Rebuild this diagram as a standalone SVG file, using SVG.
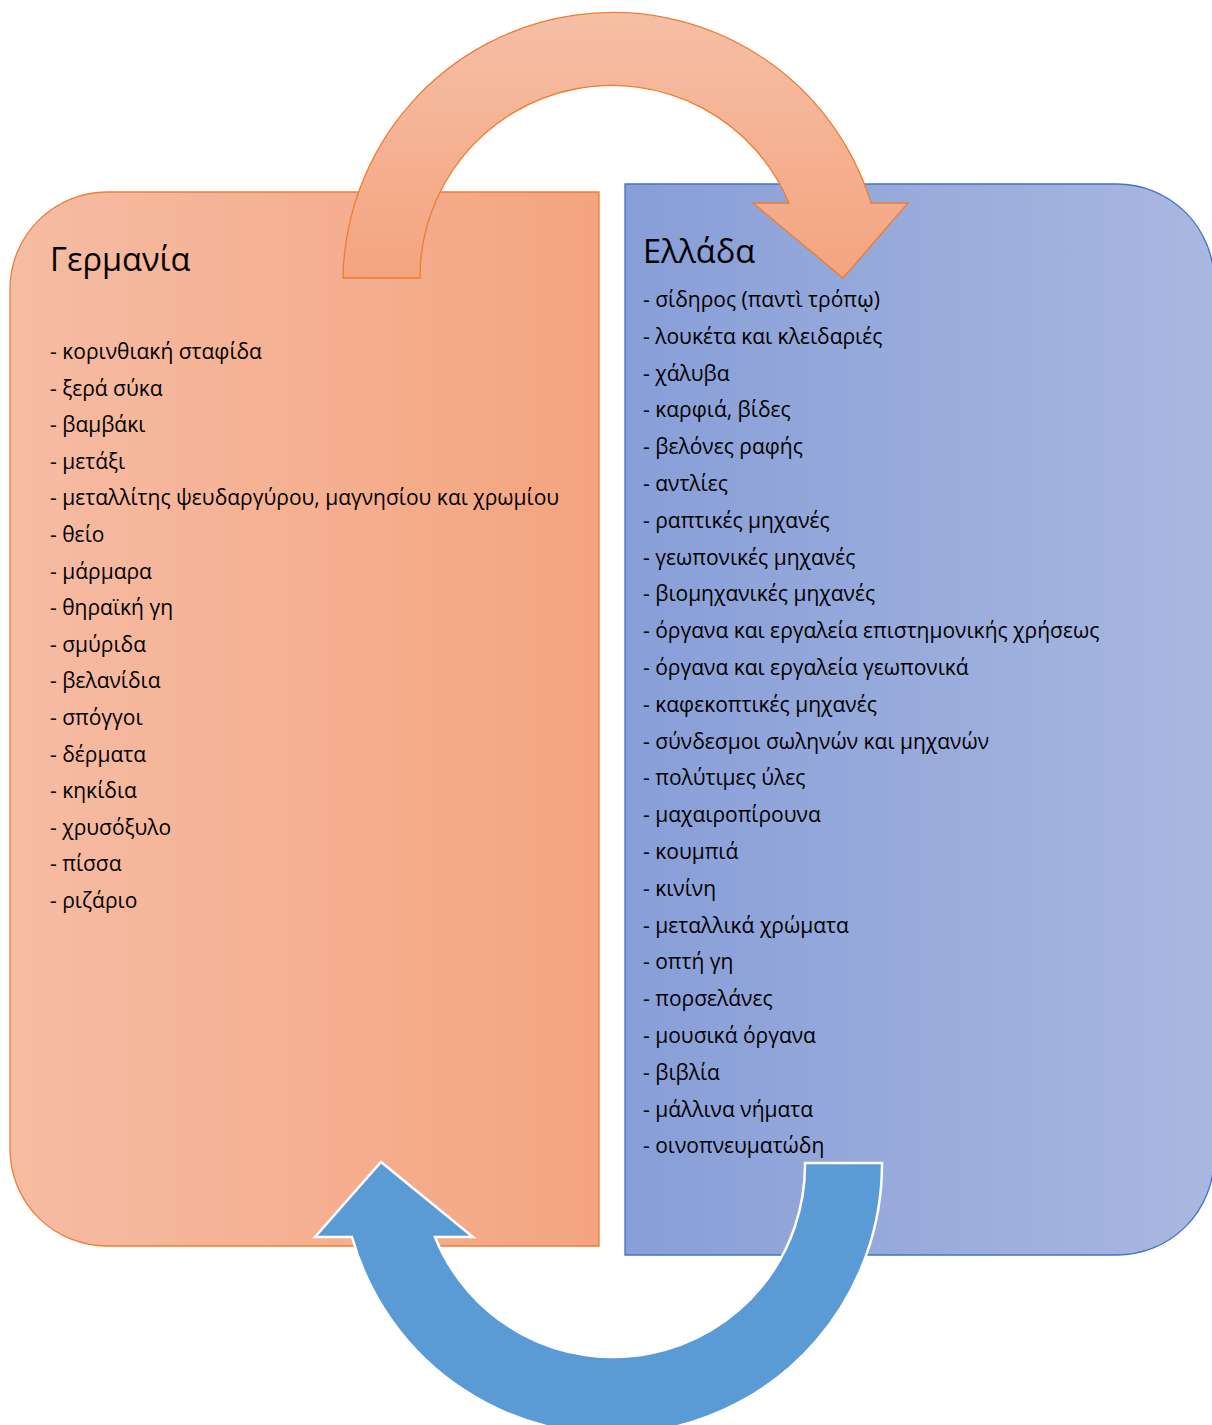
<svg xmlns="http://www.w3.org/2000/svg" width="1212" height="1425" viewBox="0 0 1212 1425">
<defs>
<linearGradient id="gOrange" x1="0" y1="0" x2="1" y2="0">
<stop offset="0" stop-color="#F6BCA4"/>
<stop offset="1" stop-color="#F4A47F"/>
</linearGradient>
<linearGradient id="gBlue" x1="0" y1="0" x2="1" y2="0">
<stop offset="0" stop-color="#889ED7"/>
<stop offset="1" stop-color="#A9B8E0"/>
</linearGradient>
<linearGradient id="gArrowTop" x1="0" y1="0" x2="0" y2="1">
<stop offset="0" stop-color="#F6BFA6"/>
<stop offset="1" stop-color="#F4A47F"/>
</linearGradient>
</defs>
<style>
.title{font-family:"Open Sans","Noto Sans","DejaVu Sans",sans-serif;font-size:32.5px;fill:#000}
.item{font-family:"Open Sans","Noto Sans","DejaVu Sans",sans-serif;font-size:21px;fill:#000}
.boxO{fill:url(#gOrange);stroke:#ED7D31;stroke-width:1.3}
.boxB{fill:url(#gBlue);stroke:#4472C4;stroke-width:1.3}
.arrowTop{fill:url(#gArrowTop);stroke:#ED7D31;stroke-width:1.3;stroke-linejoin:miter}
.arrowBot{fill:#5B9BD5;stroke:#FFFFFF;stroke-width:2.5;stroke-linejoin:miter}
</style>

<g id="germany">
<path class="boxO" d="M107,192 H599 V1246 H107 A97,97 0 0 1 10,1149 V289 A97,97 0 0 1 107,192 Z"/>
<text class="title" x="50" y="271">Γερμανία</text>
<text class="item" x="50" y="359">- κορινθιακή σταφίδα</text>
<text class="item" x="50" y="395.6">- ξερά σύκα</text>
<text class="item" x="50" y="432.2">- βαμβάκι</text>
<text class="item" x="50" y="468.8">- μετάξι</text>
<text class="item" x="50" y="505.4">- μεταλλίτης ψευδαργύρου, μαγνησίου και χρωμίου</text>
<text class="item" x="50" y="542">- θείο</text>
<text class="item" x="50" y="578.6">- μάρμαρα</text>
<text class="item" x="50" y="615.2">- θηραϊκή γη</text>
<text class="item" x="50" y="651.8">- σμύριδα</text>
<text class="item" x="50" y="688.4">- βελανίδια</text>
<text class="item" x="50" y="725">- σπόγγοι</text>
<text class="item" x="50" y="761.6">- δέρματα</text>
<text class="item" x="50" y="798.2">- κηκίδια</text>
<text class="item" x="50" y="834.8">- χρυσόξυλο</text>
<text class="item" x="50" y="871.4">- πίσσα</text>
<text class="item" x="50" y="908">- ριζάριο</text>
</g>

<g id="greece">
<path class="boxB" d="M625,184 H1117 A97,97 0 0 1 1214,281 V1158 A97,97 0 0 1 1117,1255 H625 Z"/>
<text class="title" x="643" y="263">Ελλάδα</text>
<text class="item" x="643" y="307">- σίδηρος (παντὶ τρόπῳ)</text>
<text class="item" x="643" y="343.8">- λουκέτα και κλειδαριές</text>
<text class="item" x="643" y="380.6">- χάλυβα</text>
<text class="item" x="643" y="417.4">- καρφιά, βίδες</text>
<text class="item" x="643" y="454.2">- βελόνες ραφής</text>
<text class="item" x="643" y="491">- αντλίες</text>
<text class="item" x="643" y="527.8">- ραπτικές μηχανές</text>
<text class="item" x="643" y="564.6">- γεωπονικές μηχανές</text>
<text class="item" x="643" y="601.4">- βιομηχανικές μηχανές</text>
<text class="item" x="643" y="638.2">- όργανα και εργαλεία επιστημονικής χρήσεως</text>
<text class="item" x="643" y="675">- όργανα και εργαλεία γεωπονικά</text>
<text class="item" x="643" y="711.8">- καφεκοπτικές μηχανές</text>
<text class="item" x="643" y="748.6">- σύνδεσμοι σωληνών και μηχανών</text>
<text class="item" x="643" y="785.4">- πολύτιμες ύλες</text>
<text class="item" x="643" y="822.2">- μαχαιροπίρουνα</text>
<text class="item" x="643" y="859">- κουμπιά</text>
<text class="item" x="643" y="895.8">- κινίνη</text>
<text class="item" x="643" y="932.6">- μεταλλικά χρώματα</text>
<text class="item" x="643" y="969.4">- οπτή γη</text>
<text class="item" x="643" y="1006.2">- πορσελάνες</text>
<text class="item" x="643" y="1043">- μουσικά όργανα</text>
<text class="item" x="643" y="1079.8">- βιβλία</text>
<text class="item" x="643" y="1116.6">- μάλλινα νήματα</text>
<text class="item" x="643" y="1153.4">- οινοπνευματώδη</text>
</g>

<g id="connectors">
<path id="arrow-germany-greece" class="arrowTop" d="M343,278 A270,270 0 0 1 871,203 L908,203 L843,278 L753,203 L789,203 A192,192 0 0 0 420,278 Z"/>
<path id="arrow-greece-germany" class="arrowBot" d="M882,1163 A270,270 0 0 1 352,1237 L315,1237 L381,1162 L473,1237 L435,1237 A192,192 0 0 0 805,1163 Z"/>
</g>
</svg>
